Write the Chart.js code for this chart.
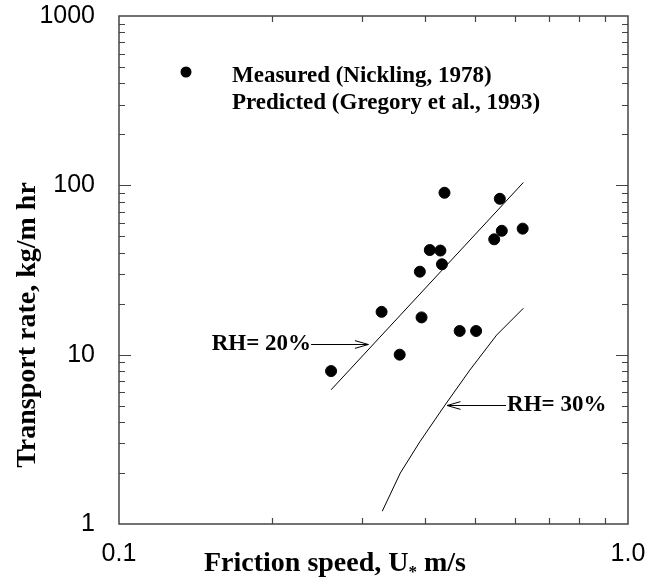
<!DOCTYPE html>
<html lang="en">

<head>
    <meta charset="UTF-8">
    <title>Transport rate vs friction speed</title>
    <style>
        body {
            margin: 0;
            padding: 0;
            background-color: #fff;
        }

        .chart-box {
            width: 649px;
            height: 581px;
        }
    </style>
</head>

<body>
    <div class="chart-box">
        <canvas id="transportChart"></canvas>
    </div>

    <script src="https://cdn.jsdelivr.net/npm/chart.js"></script>
    <script>
        // measured points (Nickling, 1978)
        const measuredU = [0.261, 0.328, 0.356, 0.390, 0.393, 0.408, 0.428, 0.431, 0.436, 0.467, 0.503, 0.546, 0.560, 0.565, 0.621];
        const measuredQ = [8.0, 17.9, 10.0, 30.9, 16.6, 41.5, 41.2, 34.2, 90.4, 13.8, 13.8, 48.0, 83.3, 53.9, 55.5];

        // predicted curves (Gregory et al., 1993)
        const rh20U = [0.261, 0.623];
        const rh20Q = [6.2, 104];
        const rh30U = [0.329, 0.357, 0.390, 0.437, 0.489, 0.552, 0.623];
        const rh30Q = [1.19, 2.0, 3.06, 5.04, 8.11, 13.06, 18.8];

        const xTicks = [0.1, 1];
        const xTickLabels = ["0.1", "1.0"];
        const yTicks = [1, 10, 100, 1000];
        const yTickLabels = ["1", "10", "100", "1000"];

        const legendLabels = ["Measured (Nickling, 1978)", "Predicted (Gregory et al., 1993)"];
        const xTitle = ["Friction speed, U", "*", " m/s"];
        const yTitle = "Transport rate, kg/m hr";

        // labels with arrows, in data units
        const rhNotes = [
            { text: "RH= 20%", from: [0.2384, 11.55], to: [0.309, 11.55], align: "right" },
            { text: "RH= 30%", from: [0.576, 5.04], to: [0.441, 5.04], align: "left" }
        ];

        const serif = "'Liberation Serif', 'Times New Roman', serif";

        function toPoints(xs, ys) {
            return xs.map((x, i) => ({ x: x, y: ys[i] }));
        }

        function arrow(ctx, x1, y1, x2, y2) {
            const ang = Math.atan2(y2 - y1, x2 - x1);
            const len = 14, half = 0.28;
            ctx.beginPath();
            ctx.moveTo(x1, y1);
            ctx.lineTo(x2, y2);
            ctx.moveTo(x2 - len * Math.cos(ang - half), y2 - len * Math.sin(ang - half));
            ctx.lineTo(x2, y2);
            ctx.lineTo(x2 - len * Math.cos(ang + half), y2 - len * Math.sin(ang + half));
            ctx.stroke();
        }

        const decorPlugin = {
            id: "decor",
            afterDatasetsDraw(chart) {
                const ctx = chart.ctx;
                const ca = chart.chartArea;
                const xs = chart.scales.x;
                const ys = chart.scales.y;

                ctx.save();

                // frame
                ctx.strokeStyle = "#444";
                ctx.lineWidth = 1.5;
                ctx.strokeRect(ca.left, ca.top, ca.right - ca.left, ca.bottom - ca.top);

                // inward ticks
                ctx.lineWidth = 1.2;
                ctx.beginPath();
                for (let d = 1; d <= 100; d *= 10) {
                    for (let m = 1; m <= 9; m++) {
                        const v = d * m;
                        if (v === 1) continue;
                        const py = Math.round(ys.getPixelForValue(v)) + 0.5;
                        const len = m === 1 ? 12 : 6;
                        ctx.moveTo(ca.left, py);
                        ctx.lineTo(ca.left + len, py);
                        ctx.moveTo(ca.right, py);
                        ctx.lineTo(ca.right - len, py);
                    }
                }
                for (let m = 2; m <= 9; m++) {
                    const px = Math.round(xs.getPixelForValue(m / 10)) + 0.5;
                    ctx.moveTo(px, ca.bottom);
                    ctx.lineTo(px, ca.bottom - 6);
                    ctx.moveTo(px, ca.top);
                    ctx.lineTo(px, ca.top + 6);
                }
                ctx.stroke();

                // legend
                ctx.fillStyle = "#000";
                ctx.beginPath();
                ctx.arc(ca.left + 67, ca.top + 56, 5.5, 0, Math.PI * 2);
                ctx.fill();
                ctx.font = "bold 23px " + serif;
                ctx.textBaseline = "middle";
                ctx.textAlign = "left";
                ctx.fillText(legendLabels[0], ca.left + 113, ca.top + 60);
                ctx.fillText(legendLabels[1], ca.left + 113, ca.top + 87);

                // RH notes
                ctx.strokeStyle = "#000";
                ctx.lineWidth = 1;
                rhNotes.forEach(n => {
                    const x1 = xs.getPixelForValue(n.from[0]);
                    const y1 = Math.round(ys.getPixelForValue(n.from[1])) + 0.5;
                    const x2 = xs.getPixelForValue(n.to[0]);
                    arrow(ctx, x1, y1, x2, y1);
                    ctx.textAlign = n.align;
                    ctx.fillText(n.text, n.align === "right" ? x1 : x1 + 1, y1);
                });

                // x title with subscript star
                ctx.font = "bold 28px " + serif;
                ctx.textAlign = "left";
                const w0 = ctx.measureText(xTitle[0]).width;
                const w2 = ctx.measureText(xTitle[2]).width;
                ctx.font = "bold 17px " + serif;
                const w1 = ctx.measureText(xTitle[1]).width;
                let tx = 335 - (w0 + w1 + w2) / 2;
                const ty = 564;
                ctx.font = "bold 28px " + serif;
                ctx.fillText(xTitle[0], tx, ty);
                ctx.font = "bold 17px " + serif;
                ctx.fillText(xTitle[1], tx + w0, ty + 9);
                ctx.font = "bold 28px " + serif;
                ctx.fillText(xTitle[2], tx + w0 + w1, ty);

                // y title
                ctx.translate(28, 325);
                ctx.rotate(-Math.PI / 2);
                ctx.textAlign = "center";
                ctx.fillText(yTitle, 0, 0);

                ctx.restore();
            }
        };

        const tickFont = { family: "'Liberation Sans', Arial, sans-serif", size: 25 };

        new Chart(document.getElementById("transportChart"), {
            type: "scatter",
            data: {
                datasets: [{
                    label: legendLabels[0],
                    data: toPoints(measuredU, measuredQ),
                    backgroundColor: "#000",
                    borderColor: "#000",
                    pointRadius: 5.5,
                    showLine: false
                }, {
                    label: "RH 20%",
                    data: toPoints(rh20U, rh20Q),
                    borderColor: "#000",
                    borderWidth: 1,
                    pointRadius: 0,
                    showLine: true
                }, {
                    label: "RH 30%",
                    data: toPoints(rh30U, rh30Q),
                    borderColor: "#000",
                    borderWidth: 1,
                    pointRadius: 0,
                    showLine: true
                }]
            },
            options: {
                animation: false,
                responsive: true,
                maintainAspectRatio: false,
                layout: { padding: { top: 16, right: 21, left: 0, bottom: 0 } },
                plugins: {
                    legend: { display: false },
                    tooltip: { enabled: false }
                },
                scales: {
                    x: {
                        type: "logarithmic",
                        min: 0.1,
                        max: 1,
                        afterBuildTicks: s => { s.ticks = xTicks.map(v => ({ value: v })); },
                        afterFit: s => {
                            s.height = 57;
                            s.paddingLeft = 0;
                            s.paddingRight = 0;
                        },
                        grid: { display: false },
                        border: { display: false },
                        ticks: {
                            font: tickFont,
                            color: "#000",
                            padding: 7,
                            maxRotation: 0,
                            callback: (v, i) => xTickLabels[i]
                        }
                    },
                    y: {
                        type: "logarithmic",
                        min: 1,
                        max: 1000,
                        afterBuildTicks: s => { s.ticks = yTicks.map(v => ({ value: v })); },
                        afterFit: s => {
                            s.width = 119;
                            s.paddingTop = 0;
                            s.paddingBottom = 0;
                        },
                        grid: { display: false },
                        border: { display: false },
                        ticks: {
                            font: tickFont,
                            color: "#000",
                            padding: 16,
                            callback: (v, i) => yTickLabels[i]
                        }
                    }
                }
            },
            plugins: [decorPlugin]
        });
    </script>
</body>

</html>
